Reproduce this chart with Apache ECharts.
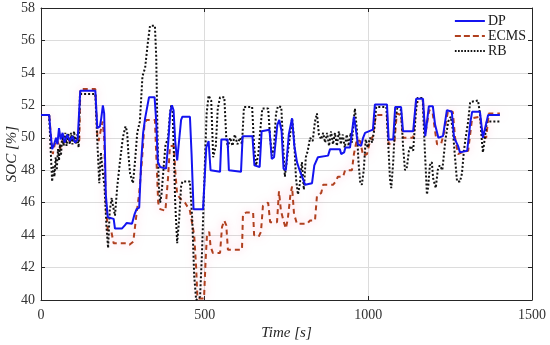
<!DOCTYPE html>
<html>
<head>
<meta charset="utf-8">
<script src="https://cdn.jsdelivr.net/npm/echarts@6/dist/echarts.min.js"></script>
<style>html,body{margin:0;padding:0;background:#fff}#c{width:550px;height:345px}</style>
</head>
<body>
<div id="c"></div>
<script>
const xTicks = [0, 500, 1000, 1500];
const yTicks = [40, 42, 44, 46, 48, 50, 52, 54, 56, 58];
const seriesNames = ['DP', 'ECMS', 'RB'];

const dpT = [0,25,28,34,40,46,50,55,60,66,72,80,88,96,104,112,117,120,166,172,180,184,189,193,198,204,222,226,247,256,262,278,286,292,300,306,312,318,330,347,352,357,364,382,388,395,400,405,410,416,422,428,432,455,460,466,495,500,505,512,518,547,551,570,574,611,616,646,652,668,674,698,705,712,722,728,735,741,748,757,767,774,782,790,807,828,835,846,877,883,913,917,926,930,944,950,956,962,968,978,984,990,1014,1020,1057,1062,1076,1082,1100,1106,1137,1146,1167,1174,1180,1185,1197,1204,1214,1228,1240,1255,1262,1274,1280,1302,1312,1317,1341,1350,1356,1366,1402];
const dpV = [51.4,51.4,50.6,49.3,49.6,50.0,49.6,50.6,49.9,50.3,49.7,50.2,49.8,50.1,49.7,49.9,49.8,52.9,52.9,50.6,50.7,51.2,52.0,51.5,46.5,45.1,45.0,44.4,44.4,44.6,44.75,44.7,45.3,45.6,45.7,48.5,50.3,51.2,52.5,52.5,51.0,48.5,48.2,48.1,49.5,51.6,52.0,51.7,49.8,48.6,48.7,51.1,51.3,51.3,49.0,45.6,45.6,47.5,49.4,49.8,48.0,47.9,49.9,49.9,48.0,47.9,50.1,50.1,48.3,48.2,50.4,50.5,48.7,48.8,50.8,51.1,50.4,48.1,48.0,50.2,51.2,49.5,48.5,48.0,47.1,47.2,48.3,48.8,48.9,49.3,49.3,49.0,49.1,49.4,49.4,49.3,51.3,50.5,49.6,49.5,50.0,50.3,50.5,52.05,52.05,49.9,49.9,51.9,51.9,50.4,50.4,52.4,52.4,50.1,50.2,51.95,51.95,50.8,50.0,50.1,51.7,51.6,50.0,49.5,49.1,49.2,51.0,51.6,51.6,50.0,50.1,51.4,51.4];

const ecmsT = [0,25,30,36,42,48,54,58,64,72,80,90,100,110,117,120,166,172,176,183,188,193,198,204,215,222,260,270,276,282,290,300,308,316,322,348,352,358,364,380,388,394,406,410,416,428,440,455,468,474,478,498,503,507,514,518,525,547,553,560,566,571,614,617,628,648,651,665,672,678,694,700,721,727,733,742,748,754,762,767,773,782,813,822,837,843,856,862,892,900,907,923,929,950,956,965,975,984,996,1005,1014,1023,1057,1062,1080,1087,1100,1106,1137,1146,1167,1174,1186,1196,1204,1210,1222,1230,1244,1258,1265,1274,1286,1305,1317,1341,1350,1360,1368,1402];
const ecmsV = [51.4,51.4,50.2,49.0,49.6,49.9,49.6,49.3,49.8,49.7,50.0,49.7,49.9,49.7,49.8,53.0,53.0,50.2,49.8,50.5,51.0,50.0,46.0,44.3,44.2,43.5,43.5,43.4,43.3,43.6,45.0,46.6,48.5,50.8,51.1,51.1,49.0,46.0,45.6,45.5,47.5,49.5,49.5,48.0,46.5,46.2,46.0,45.5,44.0,42.0,40.1,40.1,42.5,44.0,44.2,43.3,42.9,42.9,44.5,44.9,44.6,43.1,43.1,45.3,45.4,45.4,44.0,43.9,44.2,45.8,46.0,44.8,44.8,46.7,45.5,44.8,44.4,45.0,46.5,47.0,45.3,44.7,44.7,44.9,44.9,46.4,46.6,47.1,47.1,47.3,47.6,47.6,48.0,48.0,49.0,49.9,49.8,48.9,49.0,49.8,50.1,51.4,51.4,49.6,49.8,51.5,51.4,50.0,50.0,52.2,52.2,50.2,51.7,51.6,50.4,49.6,49.6,50.2,51.7,51.6,50.0,49.0,49.1,49.2,51.2,51.3,50.1,50.0,51.5,51.5];

const rbT = [0,25,29,34,38,41,45,48,52,55,58,61,65,69,74,78,83,88,92,96,101,106,110,115,119,166,172,178,183,188,194,200,205,210,216,220,226,233,241,250,258,263,267,272,281,287,294,302,310,318,326,333,348,352,356,360,364,368,374,380,388,394,398,402,406,410,416,422,428,432,455,462,468,474,486,492,500,506,512,520,526,534,540,547,560,566,571,578,585,592,600,608,614,620,645,651,657,664,670,676,694,700,706,712,718,724,734,740,745,752,760,767,773,779,785,791,797,803,809,815,822,830,837,843,849,856,862,868,874,880,886,892,898,904,910,916,922,928,934,940,946,950,955,959,965,970,975,980,986,992,998,1005,1012,1018,1024,1055,1060,1066,1070,1076,1082,1088,1100,1106,1112,1118,1124,1130,1137,1145,1150,1166,1172,1179,1183,1188,1194,1198,1206,1212,1218,1226,1235,1244,1252,1258,1264,1271,1280,1286,1292,1298,1305,1311,1335,1341,1346,1350,1356,1362,1368,1402];
const rbV = [51.4,51.4,49.5,47.3,48.3,47.6,48.8,48.0,49.3,48.6,49.6,48.9,50.2,49.5,50.3,49.5,50.3,49.6,50.3,49.6,50.4,49.6,50.2,49.4,52.7,52.7,49.8,47.2,49.1,48.0,47.0,44.5,43.2,45.5,46.3,45.8,45.2,47.0,48.5,50.0,50.7,50.4,49.0,47.8,47.2,48.5,50.3,51.0,53.8,54.3,55.8,56.9,56.9,55.0,50.0,47.0,46.0,46.5,48.0,49.5,50.0,51.5,52.0,51.6,49.0,46.0,43.5,45.0,47.0,47.3,47.3,45.0,41.5,40.0,40.2,43.0,48.0,51.5,52.6,52.3,48.8,49.5,51.8,52.5,52.5,50.0,49.4,50.0,49.5,50.2,49.6,50.0,49.6,51.9,51.9,49.5,48.3,49.0,50.5,51.8,51.8,50.0,48.9,49.5,51.5,51.95,51.9,49.5,47.6,48.8,50.0,51.2,50.0,47.5,46.5,47.2,48.5,46.8,48.8,49.2,50.0,49.8,51.0,51.5,50.2,49.9,50.3,49.7,50.3,49.5,50.4,49.6,50.3,49.5,50.4,49.6,50.2,49.4,50.2,49.5,50.3,49.7,51.0,51.8,50.5,48.5,47.3,47.1,48.0,49.9,49.4,50.0,49.7,50.5,51.9,51.9,50.0,47.5,46.9,48.5,51.0,51.8,51.7,49.5,48.0,48.2,49.2,49.5,49.2,51.5,52.45,52.45,49.5,46.5,47.0,48.3,48.5,47.5,46.9,48.0,48.3,48.0,49.8,51.0,51.3,50.5,49.0,47.3,47.3,47.8,49.2,50.1,51.0,52.2,52.3,51.5,50.0,49.1,50.0,51.0,51.0,51.0];

function pairs(t, v) { return t.map((x, i) => [x, v[i]]); }

// legend glyphs (30 x 2 strokes)
const iconSolid = 'path://M0,0h30v2h-30z';
const iconDashed = 'path://M0,0h6v2h-6z M9,0h6v2h-6z M18,0h6v2h-6z M27,0h3v2h-3z';
let dots = '';
for (let i = 0; i < 30; i += 3) dots += 'M' + i + ',0h1.6v2h-1.6z ';
const iconDotted = 'path://' + dots.trim();

const serif = '"Liberation Serif", "Times New Roman", serif';
const chart = echarts.init(document.getElementById('c'), null, {renderer: 'canvas'});

const baseX = {
  type: 'value', min: 0, max: 1500, interval: 500,
  axisLine: {show: true, onZero: false, lineStyle: {color: '#262626', width: 1}},
  axisTick: {show: true, inside: true, length: 4, lineStyle: {color: '#262626'}},
};
const baseY = {
  type: 'value', min: 40, max: 58, interval: 2,
  axisLine: {show: true, onZero: false, lineStyle: {color: '#262626', width: 1}},
  axisTick: {show: true, inside: true, length: 4, lineStyle: {color: '#262626'}},
};

chart.setOption({
  animation: false,
  backgroundColor: '#ffffff',
  grid: {left: 41, right: 18, top: 8, bottom: 45, containLabel: false, outerBoundsMode: 'none'},
  legend: {
    right: 22, top: 12, orient: 'vertical', itemGap: 1,
    itemWidth: 30, itemHeight: 14,
    backgroundColor: '#ffffff', padding: [2, 2, 2, 4],
    textStyle: {fontFamily: serif, fontSize: 14, color: '#1a1a1a', padding: [0, 0, 0, -2]},
    data: [
      {name: seriesNames[0], icon: iconSolid, itemStyle: {color: '#1414f0'}},
      {name: seriesNames[1], icon: iconDashed, itemStyle: {color: '#b0401f'}},
      {name: seriesNames[2], icon: iconDotted, itemStyle: {color: '#111111'}}
    ]
  },
  xAxis: [
    Object.assign({}, baseX, {
      position: 'bottom',
      splitLine: {show: true, lineStyle: {color: '#dcdcdc', width: 1}},
      axisLabel: {fontFamily: serif, fontSize: 14, color: '#333', margin: 8,
        formatter: v => xTicks.includes(v) ? String(v) : ''},
      name: 'Time [s]', nameLocation: 'middle', nameGap: 26, nameMoveOverlap: false,
      nameTextStyle: {fontFamily: serif, fontStyle: 'italic', fontSize: 15, color: '#262626'}
    }),
    Object.assign({}, baseX, {
      position: 'top', splitLine: {show: false}, axisLabel: {show: false}
    })
  ],
  yAxis: [
    Object.assign({}, baseY, {
      position: 'left',
      splitLine: {show: true, lineStyle: {color: '#dcdcdc', width: 1}},
      axisLabel: {fontFamily: serif, fontSize: 14, color: '#333', margin: 6,
        formatter: v => yTicks.includes(v) ? String(v) : ''},
      name: 'SOC [%]', nameLocation: 'middle', nameGap: 21, nameMoveOverlap: false,
      nameTextStyle: {fontFamily: serif, fontStyle: 'italic', fontSize: 15, color: '#262626'}
    }),
    Object.assign({}, baseY, {
      position: 'right', splitLine: {show: false}, axisLabel: {show: false}
    })
  ],
  series: [
    {
      name: 'RB', type: 'line', xAxisIndex: 0, yAxisIndex: 0, z: 3,
      showSymbol: false, symbol: 'none',
      data: pairs(rbT, rbV),
      itemStyle: {color: '#111111'},
      lineStyle: {color: '#111111', width: 2, type: [2, 2]}
    },
    {
      name: 'ECMS', type: 'line', xAxisIndex: 0, yAxisIndex: 0, z: 2,
      showSymbol: false, symbol: 'none',
      data: pairs(ecmsT, ecmsV),
      itemStyle: {color: '#b0401f'},
      lineStyle: {color: '#b0401f', width: 2, type: [5, 4],
        shadowColor: 'rgba(255,120,170,0.55)', shadowBlur: 8}
    },
    {
      name: 'DP', type: 'line', xAxisIndex: 0, yAxisIndex: 0, z: 4,
      showSymbol: false, symbol: 'none',
      data: pairs(dpT, dpV),
      itemStyle: {color: '#1414f0'},
      lineStyle: {color: '#1414f0', width: 2}
    }
  ]
});
</script>
</body>
</html>
